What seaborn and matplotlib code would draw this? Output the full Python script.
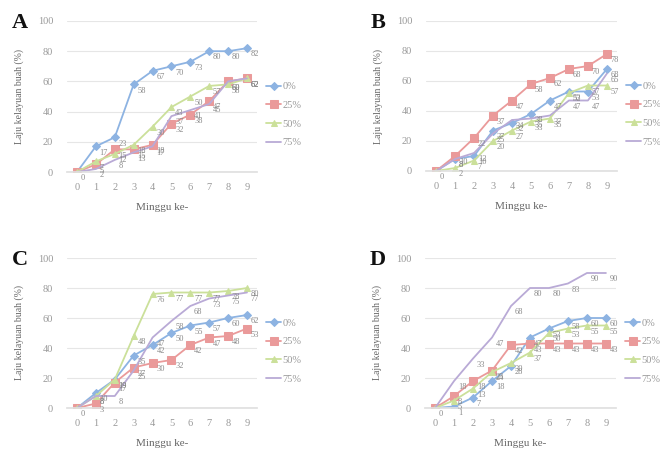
import matplotlib
matplotlib.use("Agg")
import matplotlib.pyplot as plt
import seaborn as sns
import pandas as pd

weeks = [0, 1, 2, 3, 4, 5, 6, 7, 8, 9]
series_names = ["0%", "25%", "50%", "75%"]
panel_letters = ["A", "B", "C", "D"]

A_0 = [0, 17, 23, 58, 67, 70, 73, 80, 80, 82]
A_25 = [0, 5, 15, 15, 18, 32, 38, 47, 60, 62]
A_50 = [0, 7, 12, 18, 30, 43, 50, 57, 58, 62]
A_75 = [0, 2, 8, 13, 17, 37, 41, 45, 60, 62]

B_0 = [0, 8, 10, 27, 32, 38, 47, 53, 53, 68]
B_25 = [0, 10, 22, 37, 47, 58, 62, 68, 70, 78]
B_50 = [0, 2, 7, 20, 27, 33, 35, 52, 57, 57]
B_75 = [0, 8, 12, 25, 34, 35, 37, 47, 47, 65]

C_0 = [0, 10, 19, 35, 42, 50, 55, 57, 60, 62]
C_25 = [0, 3, 17, 27, 30, 32, 42, 47, 48, 53]
C_50 = [0, 8, 19, 48, 76, 77, 77, 77, 78, 80]
C_75 = [0, 8, 8, 25, 47, 58, 68, 73, 75, 77]

D_0 = [0, 1, 7, 18, 28, 47, 53, 58, 60, 60]
D_25 = [0, 8, 18, 25, 42, 43, 43, 43, 43, 43]
D_50 = [0, 5, 13, 24, 30, 37, 50, 53, 55, 55]
D_75 = [0, 18, 33, 47, 68, 80, 80, 83, 90, 90]

panels = [
    [A_0, A_25, A_50, A_75],
    [B_0, B_25, B_50, B_75],
    [C_0, C_25, C_50, C_75],
    [D_0, D_25, D_50, D_75],
]

colors = ["#8db3e2", "#ea9a9a", "#cbe09a", "#b9aad6"]
markers = ["D", "s", "^", None]
msizes = [4, 6, 5, 0]

sns.set_theme(style="white")
plt.rcParams["font.family"] = ["Liberation Serif", "DejaVu Serif"]

fig = plt.figure(figsize=(6.6, 4.51), dpi=100)
W, H = 660.0, 451.0
# pixel boxes: (left, top, right, bottom)
boxes = [(67, 21, 257, 172), (426, 21, 617, 171), (67, 258, 257, 408), (425, 258, 616, 408)]

for p, (vals_list, box, letter) in enumerate(zip(panels, boxes, panel_letters)):
    l, t, r, b = box
    ax = fig.add_axes([l / W, 1 - b / H, (r - l) / W, (b - t) / H])
    for k, (vals, name, c, m, ms) in enumerate(zip(vals_list, series_names, colors, markers, msizes)):
        df = pd.DataFrame({"week": weeks, "val": vals})
        sns.lineplot(data=df, x="week", y="val", ax=ax, color=c, marker=m,
                     markersize=ms, markeredgecolor=c, linewidth=1.3, label=name)
        for xx, yy in zip(weeks, vals):
            if xx == 0 and k > 0:
                continue
            ax.text(xx + 0.2, yy - 1.5, str(yy), fontsize=6, color="#8a8a8a",
                    ha="left", va="top")
    ax.set_xlim(-0.53, 9.53)
    ax.set_ylim(0, 100)
    ax.set_xticks(weeks)
    ax.set_yticks([0, 20, 40, 60, 80, 100])
    ax.tick_params(axis="both", labelsize=7.5, colors="#999999", length=0, pad=8)
    ax.tick_params(axis="y", pad=10)
    ax.yaxis.grid(True, color="#e6e6e6", linewidth=0.8)
    ax.xaxis.grid(False)
    for s in ["top", "right", "left"]:
        ax.spines[s].set_visible(False)
    ax.spines["bottom"].set_color("#e0e0e0")
    ax.set_xlabel("Minggu ke-", fontsize=8, color="#666666", labelpad=8)
    ax.set_ylabel("Laju kelayuan buah (%)", fontsize=7, color="#666666", labelpad=10)
    leg = ax.legend(loc="center left", bbox_to_anchor=(1.0, 0.38), frameon=False,
                    fontsize=7.5, labelspacing=0.9, handlelength=1.5, handletextpad=0.1,
                    borderpad=0, borderaxespad=0.85)
    for txt in leg.get_texts():
        txt.set_color("#999999")
    fig.text((l - 55) / W, 1 - (t + 2) / H, letter, fontsize=16, fontweight="bold",
             color="#111111", ha="left", va="center")

fig.savefig("out.png", dpi=100)
